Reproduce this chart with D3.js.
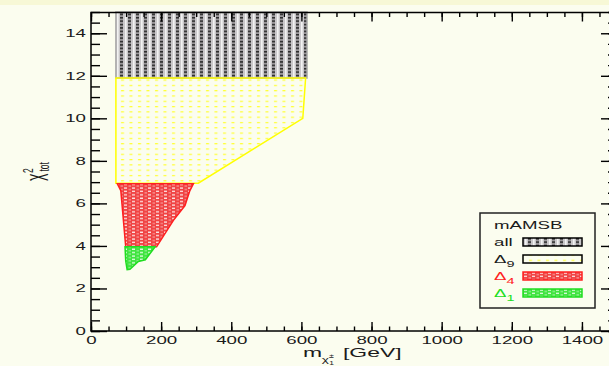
<!DOCTYPE html>
<html>
<head>
<meta charset="utf-8">
<script src="https://cdn.jsdelivr.net/npm/d3@7"></script>
<style>
  body { margin: 0; background: #fbfdef; }
  svg { display: block; font-family: "Liberation Sans", Arial, sans-serif; }
</style>
</head>
<body>
<svg id="chart" width="609" height="366"></svg>
<script>
// ---- data ----
const xTicks = [0, 200, 400, 600, 800, 1000, 1200, 1400];
const yTicks = [0, 2, 4, 6, 8, 10, 12, 14];

// allowed regions in (m [GeV], chi2) for each data set
const allRegion   = [[71, 11.9], [616, 11.9], [616, 15], [71, 15]];
const delta9Region = [[71, 11.9], [612, 11.9], [604, 10.0], [306, 6.95], [71, 6.95]];
const delta4Region = [[75, 6.92], [292, 6.92], [282, 6.6], [268, 5.9], [235, 5.2], [187, 3.96], [99, 3.96], [85, 6.6]];
const delta1Region = [[97, 3.96], [183, 3.96], [155, 3.35], [135, 3.27], [111, 2.9], [103, 2.88], [99, 3.3]];

const legendLabels = ["all", "\u0394", "\u0394", "\u0394"];
const legendSubs   = ["", "9", "4", "1"];

// ---- layout ----
const SX = 1.7; // the original is stretched sideways
const svg = d3.select("#chart");
const x = d3.scaleLinear().domain([0, 1500]).range([91, 617]);
const y = d3.scaleLinear().domain([0, 15]).range([331, 12]);

svg.append("rect").attr("width", 609).attr("height", 366).attr("fill", "#fbfdef");
svg.append("rect").attr("width", 609).attr("height", 5).attr("fill", "#f7f8d6");

// fill patterns
const defs = svg.append("defs");
function hatch(id, w, h, bg, marks) {
  const p = defs.append("pattern").attr("id", id)
    .attr("patternUnits", "userSpaceOnUse").attr("width", w).attr("height", h);
  if (bg) p.append("rect").attr("width", w).attr("height", h).attr("fill", bg);
  marks.forEach(m => p.append("rect").attr("x", m[0]).attr("y", m[1])
    .attr("width", m[2]).attr("height", m[3]).attr("fill", m[4]));
}
hatch("patAll", 8, 3.4, "#c9c7c9", [[0, 0, 3, 1.6, "#2a2a2a"], [0, 1.6, 3, 1.8, "#9a979a"], [5, 0, 1.6, 3.4, "#f2f2f2"]]);
hatch("pat9", 8.5, 5.3, null, [[2, 0, 3, 1.2, "#ffff30"]]);
hatch("pat4", 8, 3.4, "#f04444", [[4, 0.4, 3, 1.3, "#fde6e6"], [0.5, 2, 2.5, 1.0, "#f7a8a8"]]);
hatch("pat1", 8, 3.4, "#40e440", [[4, 0.4, 3, 1.3, "#e4fbe4"], [0.5, 2, 2.5, 1.0, "#a8f2a8"]]);

// regions
const line = d3.line().x(d => x(d[0])).y(d => y(d[1]));
const regions = [
  { pts: allRegion, fill: "url(#patAll)", stroke: "#a8a8a8" },
  { pts: delta9Region, fill: "url(#pat9)", stroke: "#ffff00" },
  { pts: delta4Region, fill: "url(#pat4)", stroke: "#ff2020" },
  { pts: delta1Region, fill: "url(#pat1)", stroke: "#20dd20" }
];
regions.forEach(r => {
  svg.append("path").attr("d", line(r.pts) + "Z")
    .attr("fill", r.fill).attr("stroke", r.stroke).attr("stroke-width", 1.5);
});

// axes: major + minor ticks all pointing inward
function styleAxis(g) {
  g.select(".domain").remove();
  g.selectAll("line").attr("stroke", "#000").attr("stroke-width", 1.4);
}
const fmt = d3.format("d");

svg.append("g").attr("transform", "translate(0,331)")
  .call(d3.axisBottom(x).tickValues(xTicks).tickSize(-9).tickPadding(5).tickFormat(fmt))
  .call(styleAxis)
  .call(g => g.selectAll("text").attr("font-size", 11).attr("fill", "#1a1a1a")
    .attr("font-family", "Liberation Sans, Arial, sans-serif")
    .attr("transform", `scale(${SX},1)`));
svg.append("g").attr("transform", "translate(0,331)")
  .call(d3.axisBottom(x).tickValues(d3.range(0, 1501, 50)).tickSize(-4.5).tickFormat(""))
  .call(styleAxis);
svg.append("g").attr("transform", "translate(0,12.5)")
  .call(d3.axisTop(x).tickValues(xTicks).tickSize(-9).tickFormat(""))
  .call(styleAxis);
svg.append("g").attr("transform", "translate(0,12.5)")
  .call(d3.axisTop(x).tickValues(d3.range(0, 1501, 50)).tickSize(-4.5).tickFormat(""))
  .call(styleAxis);

svg.append("g").attr("transform", "translate(91,0)")
  .call(d3.axisLeft(y).tickValues(yTicks).tickSize(-16).tickPadding(5).tickFormat(fmt))
  .call(styleAxis)
  .call(g => g.selectAll("text").attr("font-size", 11).attr("fill", "#1a1a1a")
    .attr("font-family", "Liberation Sans, Arial, sans-serif")
    .attr("x", 0).attr("transform", `translate(-5,0) scale(${SX},1)`));
svg.append("g").attr("transform", "translate(91,0)")
  .call(d3.axisLeft(y).tickValues(d3.range(0, 15.01, 0.5)).tickSize(-9).tickFormat(""))
  .call(styleAxis);
svg.append("g").attr("transform", "translate(617,0)")
  .call(d3.axisRight(y).tickValues(yTicks).tickSize(-16).tickFormat(""))
  .call(styleAxis);
svg.append("g").attr("transform", "translate(617,0)")
  .call(d3.axisRight(y).tickValues(d3.range(0, 15.01, 0.5)).tickSize(-9).tickFormat(""))
  .call(styleAxis);

// frame
svg.append("rect").attr("x", 91).attr("y", 12.5).attr("width", 526).attr("height", 318.5)
  .attr("fill", "none").attr("stroke", "#000").attr("stroke-width", 1.5);

// axis titles
const xt = svg.append("g").attr("transform", `translate(303,357) scale(${SX},1)`)
  .append("text").attr("fill", "#1a1a1a").attr("font-size", 13.5);
xt.append("tspan").text("m");
xt.append("tspan").attr("x", 11).attr("y", 5).attr("font-size", 8).text("\u03c7\u0303");
xt.append("tspan").attr("x", 15.5).attr("y", 1).attr("font-size", 5).text("\u00b1");
xt.append("tspan").attr("x", 15.5).attr("y", 8).attr("font-size", 5).text("1");
xt.append("tspan").attr("x", 23.5).attr("y", 0).text("[GeV]");

const yt = svg.append("g").attr("transform", `translate(43,181) scale(${SX},1) rotate(-90)`)
  .append("text").attr("fill", "#1a1a1a").attr("font-size", 14);
yt.append("tspan").text("\u03c7");
yt.append("tspan").attr("x", 8).attr("y", -6).attr("font-size", 8.5).text("2");
yt.append("tspan").attr("x", 9.5).attr("y", 3.5).attr("font-size", 8.5).text("tot");

// legend
const lg = svg.append("g");
lg.append("rect").attr("x", 480).attr("y", 213).attr("width", 115).attr("height", 95)
  .attr("fill", "#fbfdef").attr("stroke", "#222").attr("stroke-width", 1.5);
lg.append("text").attr("transform", `translate(494,229) scale(${SX},1)`)
  .attr("font-size", 11).attr("fill", "#1a1a1a").text("mAMSB");
const legColors = ["#1a1a1a", "#1a1a1a", "#ff2020", "#20dd20"];
const legBorders = ["#000", "#000", "#ff2020", "#20dd20"];
const legFills = ["url(#patAll)", "url(#pat9)", "url(#pat4)", "url(#pat1)"];
legendLabels.forEach((lab, i) => {
  const base = 246 + i * 17;
  const t = lg.append("text").attr("transform", `translate(494,${base}) scale(${SX},1)`)
    .attr("font-size", 11).attr("fill", legColors[i]);
  t.append("tspan").text(lab);
  if (legendSubs[i]) t.append("tspan").attr("dy", 4).attr("font-size", 8.5).text(legendSubs[i]);
  lg.append("rect").attr("x", 523).attr("y", base - 8).attr("width", 59).attr("height", 8)
    .attr("fill", legFills[i]).attr("stroke", legBorders[i]).attr("stroke-width", 1.5);
});
</script>
</body>
</html>
